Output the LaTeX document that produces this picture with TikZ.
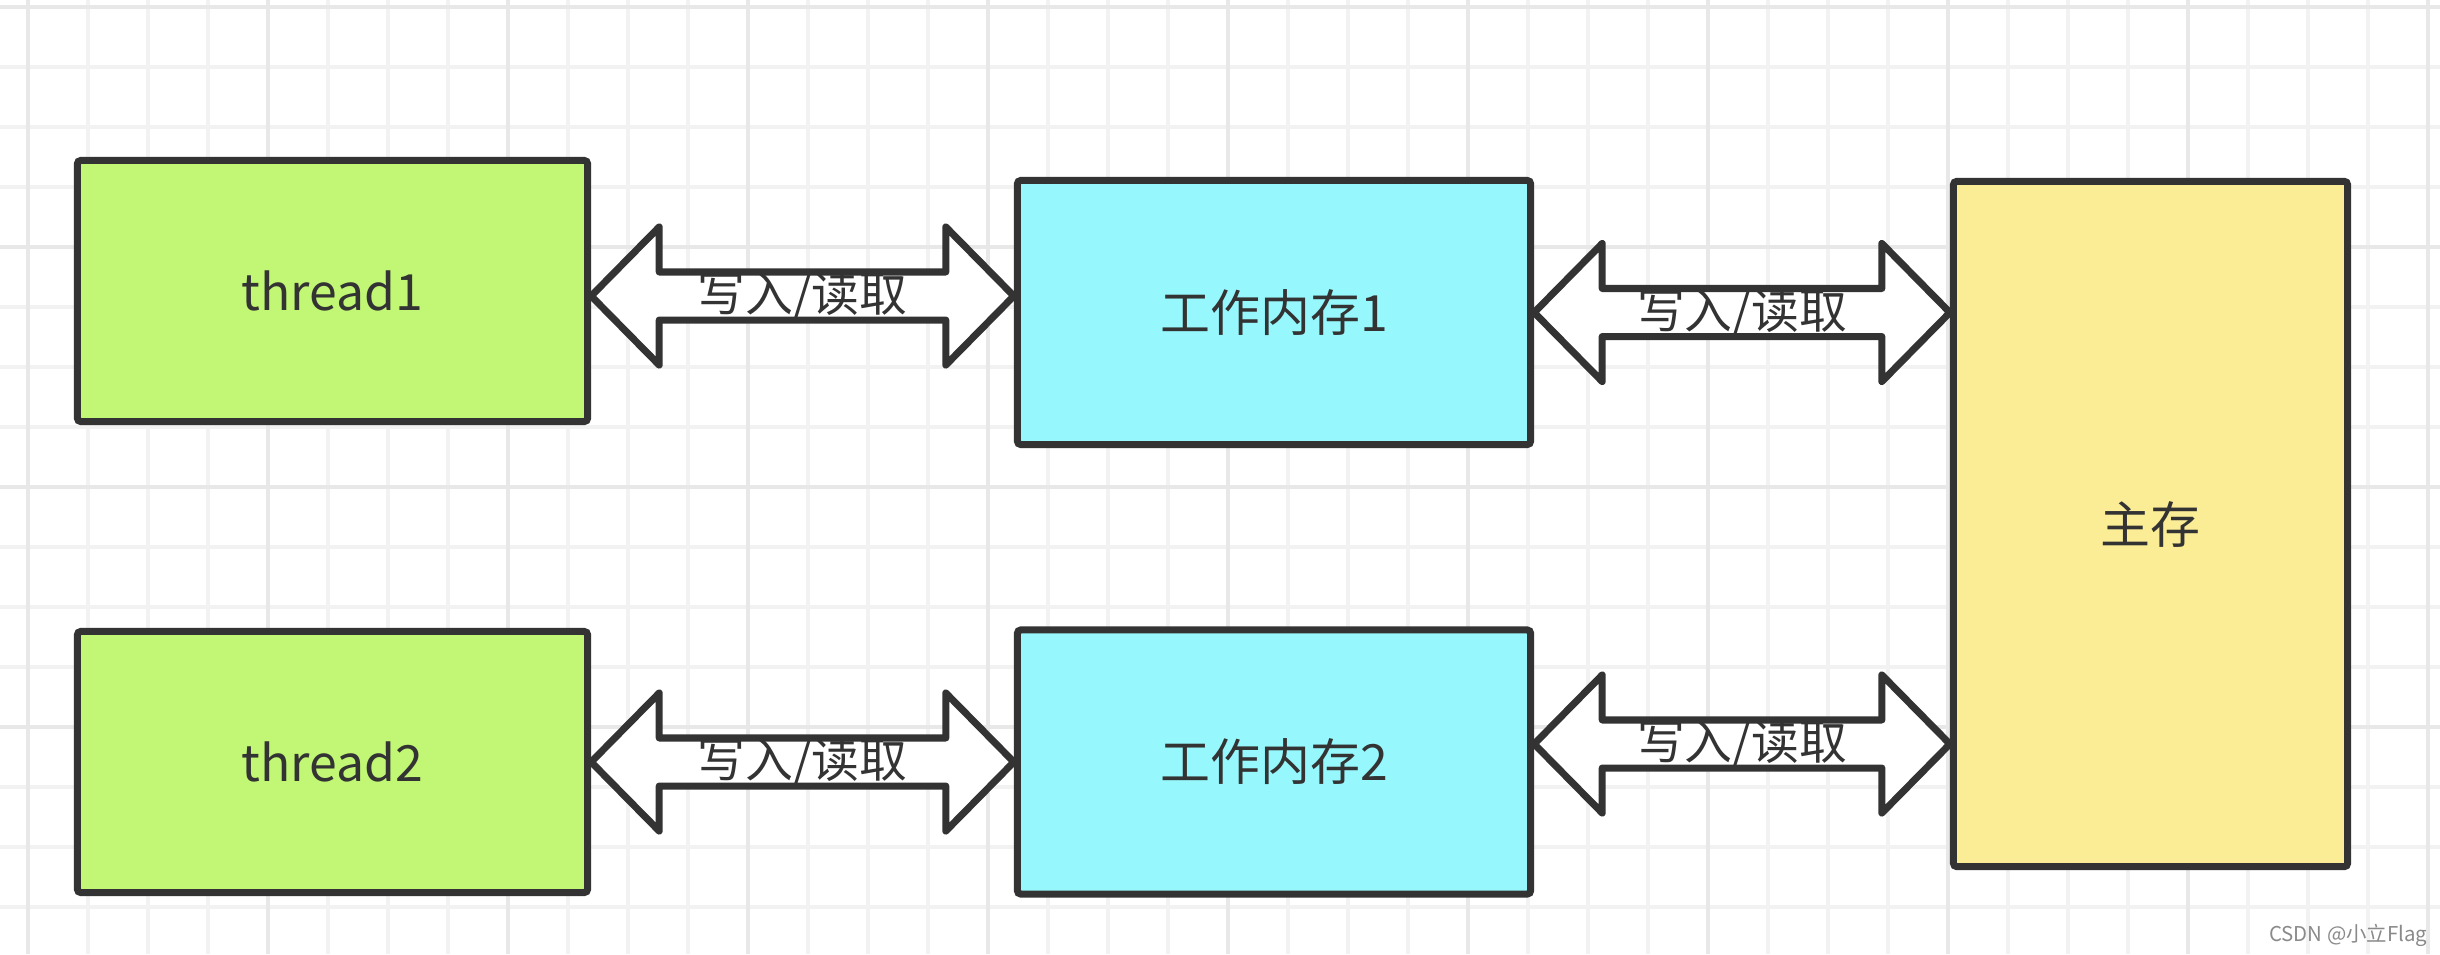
\documentclass[tikz,border=0pt]{standalone}
\usepackage{fontspec}
\usepackage{tikz}
\usetikzlibrary{calc, positioning}
\newfontfamily\cjk{Noto Sans CJK SC}
\definecolor{tgreen}{HTML}{C1F774}
\definecolor{wcyan}{HTML}{96F7FC}
\definecolor{myellow}{HTML}{FBEC96}
\definecolor{bdark}{HTML}{333333}
\definecolor{gminor}{HTML}{F2F2F2}
\definecolor{gmajor}{HTML}{E8E8E8}
\definecolor{csdngray}{HTML}{8A8A8A}
\tikzset{
  membox/.style={draw=bdark, line width=2pt, rounded corners=1pt, inner sep=0pt,
                 font=\cjk\fontsize{14.2}{17}\selectfont, text=bdark},
  tbox/.style={membox, fill=tgreen, minimum width=5.10cm, minimum height=2.61cm},
  wbox/.style={membox, fill=wcyan, minimum width=5.13cm, minimum height=2.64cm},
  mbox/.style={membox, fill=myellow, minimum width=3.94cm, minimum height=6.85cm},
  rwarr/.style={draw=bdark, fill=white, line width=2pt, line join=round},
  rwlabel/.style={font=\cjk\fontsize{13.6}{16}\selectfont, text=bdark, inner sep=0pt},
  gline/.style={gminor, line width=0.9pt},
  gmline/.style={gmajor, line width=1.1pt},
}
% fat double arrow: y taken from #1, ends at x of #1 and #2
\newcommand{\rwarrow}[2]{%
  \draw[rwarr] let \p1=#1, \p2=#2 in
    (\x1,\y1) -- (\x1+0.68cm,\y1+0.69cm) -- (\x1+0.68cm,\y1+0.24cm)
    -- (\x2-0.68cm,\y1+0.24cm) -- (\x2-0.68cm,\y1+0.69cm) -- (\x2,\y1)
    -- (\x2-0.68cm,\y1-0.69cm) -- (\x2-0.68cm,\y1-0.24cm)
    -- (\x1+0.68cm,\y1-0.24cm) -- (\x1+0.68cm,\y1-0.69cm) -- cycle
    ({(\x1+\x2)/2},\y1) node[rwlabel] {写入/读取};}

\begin{document}
\begin{tikzpicture}[x=0.01cm, y=-0.01cm]

  %% paper with grid
  \fill[white] (0,0) rectangle (2440,954);
  \useasboundingbox (0,0) rectangle (2440,954);
  \foreach \gx in {28,88,...,2440} \draw[gline] (\gx,0) -- (\gx,954);
  \foreach \gy in {7,67,...,954} \draw[gline] (0,\gy) -- (2440,\gy);
  \foreach \gx in {28,268,...,2440} \draw[gmline] (\gx,0) -- (\gx,954);
  \foreach \gy in {7,247,...,954} \draw[gmline] (0,\gy) -- (2440,\gy);

  %% threads
  \node[tbox] (thread1) at (332.5,291) {thread1};
  \node[tbox] (thread2) at (332.5,762) {thread2};

  %% working memory
  \node[wbox] (work1) at (1274,312.5) {工作内存1};
  \node[wbox] (work2) at (1274,762) {工作内存2};

  %% main memory
  \node[mbox] (mainmem) at (2150.5,524) {主存};

  %% read / write arrows
  \coordinate (rw1) at ([yshift=-0.05cm]thread1.east);
  \coordinate (rw4) at ([yshift=0.18cm]work2.east);
  \rwarrow{(rw1)}{(work1.west)}
  \rwarrow{(work1.east)}{(mainmem.west)}
  \rwarrow{(thread2.east)}{(work2.west)}
  \rwarrow{(rw4)}{(mainmem.west)}

  %% watermark
  \node[anchor=east, inner sep=0pt, text=csdngray, font=\cjk\fontsize{5.8}{7}\selectfont]
    (csdn) at (2428,935) {CSDN @小立Flag};

\end{tikzpicture}
\end{document}
